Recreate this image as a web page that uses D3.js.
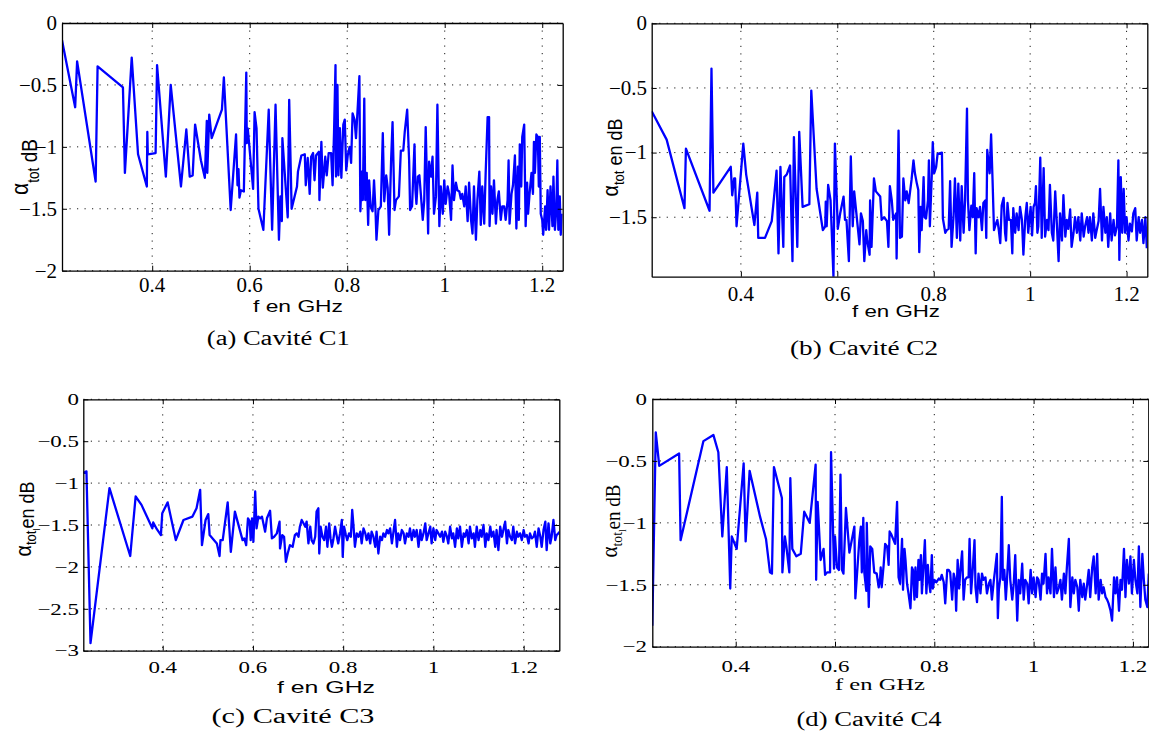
<!DOCTYPE html>
<html><head><meta charset="utf-8">
<script src="https://cdn.jsdelivr.net/npm/d3@7"></script>
<style>body{margin:0;background:#fff}svg{display:block}</style>
</head><body>
<svg id="chart" width="1149" height="733"></svg>
<script>
// ---------- data ----------
const xTicks = [0.4, 0.6, 0.8, 1, 1.2];
const yTicksA = [0, -0.5, -1, -1.5, -2];
const yTicksB = [0, -0.5, -1, -1.5];
const yTicksC = [0, -0.5, -1, -1.5, -2, -2.5, -3];
const yTicksD = [0, -0.5, -1, -1.5, -2];
const captions = ["(a) Cavité C1", "(b) Cavité C2", "(c) Cavité C3", "(d) Cavité C4"];
const xLabel = "f en GHz";

// [f (GHz), alpha_tot (dB)]
const cavC1 = [[0.215,-0.14],[0.242,-0.68],[0.246,-0.31],[0.284,-1.28],[0.288,-0.35],[0.340,-0.52],[0.344,-1.21],[0.358,-0.28],[0.371,-1.06],[0.389,-1.32],[0.390,-0.88],[0.391,-1.06],[0.407,-1.05],[0.410,-0.34],[0.428,-1.24],[0.438,-0.50],[0.459,-1.32],[0.470,-0.86],[0.477,-1.24],[0.483,-1.23],[0.488,-0.82],[0.500,-1.11],[0.508,-1.25],[0.512,-0.79],[0.513,-1.21],[0.517,-0.74],[0.522,-0.93],[0.543,-0.70],[0.547,-0.44],[0.561,-1.51],[0.572,-0.90],[0.575,-1.31],[0.577,-1.18],[0.579,-1.41],[0.582,-1.35],[0.588,-1.36],[0.590,-0.97],[0.593,-0.40],[0.594,-0.97],[0.596,-0.85],[0.607,-1.34],[0.610,-0.72],[0.614,-0.85],[0.618,-1.50],[0.628,-1.67],[0.639,-0.70],[0.646,-1.67],[0.653,-0.66],[0.660,-1.75],[0.663,-1.40],[0.666,-1.60],[0.667,-0.93],[0.678,-1.57],[0.681,-0.62],[0.686,-1.50],[0.697,-1.32],[0.699,-1.20],
[0.706,-1.07],[0.713,-1.06],[0.715,-1.31],[0.719,-1.09],[0.723,-1.38],[0.726,-1.08],[0.730,-1.05],[0.733,-1.27],[0.736,-1.07],[0.742,-1.04],[0.743,-1.43],[0.747,-0.96],[0.750,-1.33],[0.755,-1.08],[0.758,-1.23],[0.762,-1.05],[0.767,-1.05],[0.770,-1.31],[0.773,-0.88],[0.776,-0.34],[0.777,-1.24],[0.780,-0.50],[0.782,-1.23],[0.785,-0.85],[0.788,-1.25],[0.792,-0.82],[0.795,-0.78],[0.798,-1.19],[0.801,-1.07],[0.805,-1.00],[0.808,-1.13],[0.811,-0.73],[0.815,-0.78],[0.818,-0.93],[0.822,-0.65],[0.825,-0.43],[0.827,-1.52],[0.830,-1.20],[0.832,-1.43],[0.835,-0.61],[0.837,-1.43],[0.840,-1.21],[0.843,-1.63],[0.845,-1.27],[0.848,-1.48],[0.852,-1.52],[0.855,-1.27],[0.858,-1.51],[0.860,-1.75],[0.864,-1.51],[0.869,-1.48],[0.873,-0.89],[0.876,-1.44],[0.880,-1.23],[0.883,-1.33],[0.886,-1.71],[0.890,-1.11],[0.893,-0.80],[0.897,-1.51],[0.900,-1.43],[0.906,-1.40],[0.910,-1.03],[0.915,-1.03],[0.918,-0.88],[0.923,-0.70],[0.927,-1.11],[0.929,-1.51],[0.933,-1.48],[0.938,-0.98],[0.940,-1.35],[0.942,-1.46],[0.945,-1.24],[0.948,-1.23],[0.951,-1.38],[0.955,-1.59],[0.958,-1.43],[0.961,-0.84],[0.966,-1.70],[0.968,-1.12],[0.972,-1.24],[0.975,-1.08],[0.978,-1.54],[0.982,-1.40],[0.985,-0.66],[0.989,-1.64],[0.992,-1.32],[0.996,-1.54],[0.999,-1.27],[1.002,-1.46],[1.006,-1.32],[1.009,-1.38],[1.013,-1.59],[1.016,-1.15],[1.019,-1.43],[1.023,-1.29],[1.026,-1.35],[1.030,-1.36],[1.033,-1.42],[1.036,-1.38],[1.040,-1.48],[1.043,-1.32],[1.047,-1.60],[1.050,-1.29],[1.054,-1.59],[1.057,-1.70],[1.060,-1.32],[1.064,-1.75],[1.067,-1.43],[1.071,-1.20],[1.074,-1.63],[1.077,-1.32],[1.081,-1.62],[1.084,-1.21],[1.088,-0.76],[1.091,-0.76],[1.092,-1.64],[1.095,-1.32],[1.098,-1.54],[1.101,-1.27],[1.105,-1.62],[1.108,-1.43],[1.111,-1.36],[1.115,-1.59],[1.118,-1.48],[1.122,-1.48],[1.125,-1.59],[1.129,-1.43],[1.131,-1.11],[1.133,-1.62],[1.137,-1.38],[1.140,-1.31],[1.144,-1.07],[1.147,-1.66],[1.150,-1.16],[1.152,-1.59],[1.154,-0.98],[1.157,-1.32],[1.159,-0.92],[1.163,-0.82],[1.166,-1.64],[1.169,-1.29],[1.171,-1.54],[1.174,-1.38],[1.178,-1.21],[1.181,-1.38],[1.183,-0.96],[1.185,-1.21],[1.188,-0.90],[1.191,-0.92],[1.193,-1.32],[1.195,-0.92],[1.197,-1.54],[1.200,-1.59],[1.202,-1.71],[1.206,-1.48],[1.208,-1.67],[1.211,-1.35],[1.214,-1.67],[1.217,-1.32],[1.221,-1.64],[1.223,-1.24],[1.226,-1.67],[1.229,-1.50],[1.231,-1.11],[1.233,-1.67],[1.236,-1.40],[1.238,-1.71],[1.240,-1.54]];

const cavC2 = [[0.215,-0.68],[0.246,-0.90],[0.283,-1.43],[0.286,-0.97],[0.335,-1.45],[0.339,-0.35],[0.343,-1.31],[0.379,-1.11],[0.382,-1.33],[0.386,-1.20],[0.388,-1.20],[0.391,-1.57],[0.405,-0.93],[0.411,-1.17],[0.428,-1.56],[0.434,-1.31],[0.436,-1.66],[0.450,-1.66],[0.464,-1.53],[0.474,-1.14],[0.478,-1.78],[0.482,-1.11],[0.488,-1.73],[0.490,-1.19],[0.495,-1.17],[0.502,-1.10],[0.507,-1.84],[0.510,-0.88],[0.517,-1.73],[0.521,-0.84],[0.528,-1.42],[0.542,-1.40],[0.546,-0.52],[0.557,-1.28],[0.570,-1.60],[0.575,-1.57],[0.576,-1.38],[0.578,-1.57],[0.581,-1.25],[0.586,-1.37],[0.592,-1.96],[0.595,-0.93],[0.601,-1.59],[0.606,-1.47],[0.613,-1.34],[0.616,-1.52],[0.619,-1.52],[0.624,-1.84],[0.628,-1.03],[0.632,-1.57],[0.635,-1.30],[0.646,-1.71],[0.649,-1.47],[0.653,-1.53],[0.656,-1.84],[0.660,-1.60],[0.662,-1.68],[0.667,-1.79],[0.668,-1.37],[0.671,-1.73],[0.676,-1.20],[0.680,-1.30],[0.689,-1.34],
[0.692,-1.52],[0.697,-1.50],[0.703,-1.53],[0.706,-1.73],[0.709,-1.26],[0.713,-1.37],[0.716,-1.52],[0.722,-1.47],[0.723,-1.82],[0.727,-0.83],[0.730,-1.66],[0.734,-1.65],[0.737,-1.20],[0.741,-1.37],[0.744,-1.30],[0.748,-1.39],[0.751,-1.30],[0.754,-1.21],[0.758,-1.06],[0.761,-1.16],[0.765,-1.24],[0.768,-1.29],[0.770,-1.77],[0.773,-1.42],[0.775,-1.60],[0.779,-1.19],[0.781,-1.50],[0.784,-1.51],[0.788,-1.37],[0.790,-1.06],[0.792,-1.57],[0.796,-1.17],[0.798,-0.92],[0.801,-1.16],[0.805,-1.11],[0.808,-1.01],[0.817,-1.00],[0.819,-1.51],[0.824,-1.62],[0.827,-1.60],[0.831,-1.59],[0.834,-1.22],[0.837,-1.73],[0.841,-1.50],[0.844,-1.20],[0.848,-1.66],[0.851,-1.24],[0.855,-1.68],[0.858,-1.26],[0.862,-1.62],[0.865,-1.37],[0.869,-0.66],[0.871,-1.37],[0.874,-1.60],[0.878,-1.41],[0.881,-1.50],[0.884,-1.16],[0.887,-1.78],[0.889,-1.43],[0.893,-1.50],[0.896,-1.42],[0.900,-1.60],[0.903,-1.39],[0.907,-1.37],[0.909,-1.66],[0.911,-0.98],[0.916,-1.16],[0.919,-0.86],[0.922,-1.21],[0.925,-1.60],[0.929,-1.55],[0.932,-1.52],[0.935,-1.60],[0.938,-1.70],[0.941,-1.41],[0.945,-1.35],[0.948,-1.62],[0.950,-1.68],[0.953,-1.39],[0.956,-1.52],[0.960,-1.52],[0.963,-1.78],[0.965,-1.43],[0.969,-1.62],[0.972,-1.47],[0.976,-1.60],[0.979,-1.42],[0.983,-1.52],[0.986,-1.79],[0.990,-1.50],[0.993,-1.39],[0.996,-1.62],[0.999,-1.50],[1.001,-1.42],[1.004,-1.64],[1.007,-1.42],[1.010,-1.39],[1.012,-1.26],[1.015,-1.62],[1.017,-1.57],[1.021,-1.04],[1.024,-1.66],[1.028,-1.12],[1.031,-1.65],[1.035,-1.52],[1.038,-1.60],[1.041,-1.25],[1.045,-1.62],[1.048,-1.68],[1.052,-1.30],[1.055,-1.52],[1.059,-1.84],[1.062,-1.47],[1.066,-1.68],[1.069,-1.33],[1.073,-1.65],[1.076,-1.52],[1.079,-1.59],[1.083,-1.44],[1.086,-1.73],[1.090,-1.62],[1.093,-1.50],[1.097,-1.62],[1.100,-1.50],[1.104,-1.68],[1.107,-1.47],[1.111,-1.65],[1.114,-1.57],[1.118,-1.50],[1.121,-1.62],[1.124,-1.50],[1.128,-1.68],[1.131,-1.47],[1.135,-1.66],[1.138,-1.60],[1.142,-1.53],[1.145,-1.28],[1.149,-1.68],[1.152,-1.42],[1.156,-1.62],[1.159,-1.50],[1.162,-1.73],[1.166,-1.47],[1.169,-1.68],[1.173,-1.52],[1.176,-1.64],[1.180,-1.57],[1.183,-1.06],[1.185,-1.83],[1.188,-1.19],[1.191,-1.62],[1.194,-1.28],[1.197,-1.62],[1.200,-1.50],[1.204,-1.68],[1.207,-1.55],[1.211,-1.61],[1.214,-1.47],[1.218,-1.43],[1.221,-1.68],[1.225,-1.50],[1.228,-1.62],[1.232,-1.52],[1.235,-1.70],[1.239,-1.50],[1.242,-1.74]];

const cavC3 = [[0.224,-0.88],[0.231,-0.86],[0.240,-2.91],[0.282,-1.06],[0.328,-1.87],[0.340,-1.16],[0.353,-1.26],[0.377,-1.54],[0.379,-1.47],[0.387,-1.55],[0.396,-1.62],[0.399,-1.36],[0.411,-1.23],[0.429,-1.68],[0.446,-1.44],[0.466,-1.40],[0.475,-1.30],[0.483,-1.08],[0.487,-1.74],[0.495,-1.44],[0.501,-1.37],[0.504,-1.62],[0.520,-1.72],[0.526,-1.87],[0.528,-1.68],[0.533,-1.68],[0.544,-1.23],[0.551,-1.82],[0.560,-1.34],[0.577,-1.68],[0.581,-1.66],[0.585,-1.74],[0.589,-1.42],[0.593,-1.46],[0.595,-1.68],[0.598,-1.42],[0.601,-1.70],[0.605,-1.10],[0.608,-1.54],[0.612,-1.40],[0.616,-1.42],[0.620,-1.40],[0.627,-1.58],[0.631,-1.42],[0.638,-1.33],[0.642,-1.66],[0.647,-1.64],[0.653,-1.60],[0.659,-1.46],[0.660,-1.78],[0.665,-1.62],[0.669,-1.64],[0.673,-1.94],[0.677,-1.84],[0.682,-1.74],[0.688,-1.76],[0.693,-1.62],
[0.697,-1.60],[0.701,-1.64],[0.704,-1.52],[0.708,-1.44],[0.712,-1.48],[0.716,-1.52],[0.719,-1.46],[0.723,-1.72],[0.727,-1.52],[0.730,-1.68],[0.734,-1.72],[0.738,-1.64],[0.741,-1.34],[0.745,-1.30],[0.747,-1.84],[0.750,-1.52],[0.754,-1.64],[0.758,-1.68],[0.762,-1.52],[0.765,-1.76],[0.769,-1.48],[0.772,-1.66],[0.775,-1.76],[0.778,-1.68],[0.782,-1.52],[0.786,-1.64],[0.789,-1.72],[0.793,-1.60],[0.797,-1.44],[0.799,-1.88],[0.802,-1.52],[0.806,-1.62],[0.809,-1.68],[0.813,-1.60],[0.817,-1.64],[0.820,-1.32],[0.823,-1.52],[0.826,-1.76],[0.830,-1.60],[0.834,-1.64],[0.838,-1.58],[0.841,-1.72],[0.845,-1.54],[0.849,-1.60],[0.852,-1.68],[0.856,-1.60],[0.860,-1.72],[0.863,-1.58],[0.867,-1.64],[0.871,-1.76],[0.874,-1.58],[0.878,-1.84],[0.882,-1.64],[0.886,-1.68],[0.889,-1.60],[0.893,-1.64],[0.897,-1.56],[0.900,-1.60],[0.904,-1.54],[0.908,-1.72],[0.911,-1.60],[0.915,-1.44],[0.919,-1.76],[0.922,-1.60],[0.926,-1.68],[0.930,-1.56],[0.934,-1.60],[0.937,-1.72],[0.941,-1.60],[0.945,-1.64],[0.948,-1.54],[0.952,-1.68],[0.956,-1.56],[0.959,-1.64],[0.963,-1.56],[0.967,-1.76],[0.971,-1.56],[0.974,-1.68],[0.978,-1.60],[0.982,-1.48],[0.985,-1.68],[0.989,-1.60],[0.993,-1.52],[0.996,-1.72],[1.000,-1.54],[1.004,-1.68],[1.007,-1.56],[1.011,-1.60],[1.015,-1.64],[1.019,-1.58],[1.022,-1.70],[1.026,-1.58],[1.030,-1.64],[1.033,-1.72],[1.037,-1.52],[1.041,-1.66],[1.044,-1.60],[1.048,-1.76],[1.052,-1.54],[1.055,-1.66],[1.059,-1.52],[1.063,-1.76],[1.067,-1.60],[1.070,-1.64],[1.074,-1.56],[1.078,-1.72],[1.081,-1.52],[1.085,-1.66],[1.089,-1.60],[1.092,-1.76],[1.096,-1.52],[1.100,-1.68],[1.104,-1.56],[1.107,-1.64],[1.111,-1.50],[1.115,-1.76],[1.118,-1.60],[1.122,-1.68],[1.126,-1.52],[1.129,-1.64],[1.133,-1.58],[1.137,-1.76],[1.140,-1.56],[1.144,-1.80],[1.148,-1.52],[1.152,-1.64],[1.155,-1.56],[1.159,-1.46],[1.163,-1.72],[1.166,-1.56],[1.170,-1.64],[1.174,-1.68],[1.177,-1.52],[1.181,-1.72],[1.185,-1.58],[1.188,-1.64],[1.192,-1.60],[1.196,-1.68],[1.200,-1.56],[1.203,-1.64],[1.207,-1.62],[1.211,-1.72],[1.214,-1.60],[1.218,-1.66],[1.222,-1.64],[1.225,-1.58],[1.229,-1.76],[1.233,-1.54],[1.237,-1.64],[1.240,-1.76],[1.244,-1.56],[1.248,-1.46],[1.251,-1.80],[1.255,-1.48],[1.259,-1.72],[1.262,-1.64],[1.266,-1.44],[1.270,-1.68],[1.273,-1.62],[1.277,-1.60],[1.279,-1.58]];

const cavC4 = [[0.232,-1.83],[0.239,-0.27],[0.246,-0.54],[0.286,-0.44],[0.289,-1.14],[0.335,-0.34],[0.355,-0.29],[0.365,-0.43],[0.373,-1.11],[0.382,-0.55],[0.389,-1.53],[0.392,-1.11],[0.402,-1.21],[0.416,-0.52],[0.420,-1.15],[0.428,-0.58],[0.449,-0.95],[0.461,-1.13],[0.469,-1.40],[0.473,-1.41],[0.477,-0.55],[0.488,-0.72],[0.493,-0.80],[0.494,-1.40],[0.499,-1.11],[0.502,-1.19],[0.508,-1.40],[0.510,-0.64],[0.514,-1.21],[0.522,-1.27],[0.531,-1.25],[0.538,-0.91],[0.549,-1.00],[0.561,-0.53],[0.562,-1.46],[0.565,-0.83],[0.571,-1.30],[0.577,-1.21],[0.580,-1.42],[0.584,-1.40],[0.590,-1.40],[0.592,-0.43],[0.598,-1.37],[0.600,-1.11],[0.604,-1.36],[0.608,-1.38],[0.611,-0.61],[0.614,-1.38],[0.617,-1.41],[0.622,-0.88],[0.629,-1.24],[0.639,-1.03],[0.641,-1.61],[0.649,-1.14],[0.652,-1.03],[0.654,-1.40],[0.657,-0.96],[0.659,-1.40],[0.663,-1.55],[0.664,-1.00],[0.668,-1.68],[0.671,-1.19],[0.675,-1.21],[0.679,-1.40],[0.684,-1.41],[0.688,-1.52],[0.691,-1.44],
[0.692,-1.36],[0.694,-1.52],[0.698,-1.34],[0.701,-1.17],[0.705,-1.19],[0.708,-1.34],[0.710,-1.07],[0.713,-1.09],[0.718,-1.14],[0.721,-1.17],[0.725,-0.83],[0.728,-1.44],[0.731,-1.49],[0.735,-1.13],[0.737,-1.54],[0.740,-1.21],[0.742,-1.30],[0.745,-1.49],[0.748,-1.57],[0.752,-1.69],[0.755,-1.36],[0.757,-1.38],[0.760,-1.62],[0.762,-1.36],[0.765,-1.60],[0.768,-1.30],[0.770,-1.46],[0.773,-1.26],[0.775,-1.57],[0.778,-1.36],[0.781,-1.14],[0.784,-1.57],[0.787,-1.34],[0.789,-1.46],[0.792,-1.56],[0.795,-1.26],[0.797,-1.53],[0.800,-1.46],[0.804,-1.48],[0.809,-1.45],[0.812,-1.46],[0.815,-1.42],[0.819,-1.48],[0.822,-1.65],[0.826,-1.38],[0.829,-1.38],[0.832,-1.40],[0.836,-1.62],[0.839,-1.41],[0.842,-1.46],[0.844,-1.71],[0.847,-1.30],[0.850,-1.53],[0.852,-1.41],[0.856,-1.23],[0.859,-1.62],[0.862,-1.46],[0.866,-1.44],[0.869,-1.44],[0.871,-1.13],[0.874,-1.57],[0.877,-1.40],[0.881,-1.14],[0.883,-1.52],[0.886,-1.64],[0.889,-1.41],[0.893,-1.57],[0.896,-1.41],[0.899,-1.46],[0.903,-1.44],[0.906,-1.57],[0.910,-1.49],[0.913,-1.46],[0.916,-1.62],[0.920,-1.46],[0.923,-1.36],[0.926,-1.25],[0.928,-1.77],[0.930,-1.54],[0.933,-1.44],[0.936,-0.79],[0.938,-1.46],[0.941,-1.38],[0.944,-1.62],[0.946,-1.49],[0.950,-1.18],[0.953,-1.46],[0.957,-1.62],[0.960,-1.49],[0.963,-1.26],[0.967,-1.79],[0.970,-1.46],[0.973,-1.57],[0.977,-1.33],[0.980,-1.62],[0.983,-1.46],[0.987,-1.49],[0.990,-1.65],[0.994,-1.38],[0.997,-1.57],[1.000,-1.44],[1.004,-1.60],[1.007,-1.44],[1.010,-1.46],[1.014,-1.62],[1.017,-1.41],[1.020,-1.49],[1.024,-1.25],[1.027,-1.57],[1.030,-1.44],[1.034,-1.57],[1.037,-1.21],[1.041,-1.60],[1.044,-1.36],[1.047,-1.57],[1.051,-1.52],[1.054,-1.46],[1.057,-1.62],[1.061,-1.41],[1.064,-1.57],[1.067,-1.36],[1.071,-1.13],[1.074,-1.68],[1.078,-1.44],[1.081,-1.57],[1.084,-1.46],[1.088,-1.52],[1.091,-1.71],[1.094,-1.46],[1.098,-1.60],[1.101,-1.49],[1.104,-1.62],[1.108,-1.49],[1.111,-1.38],[1.114,-1.60],[1.118,-1.36],[1.121,-1.27],[1.125,-1.57],[1.128,-1.25],[1.131,-1.62],[1.135,-1.46],[1.138,-1.57],[1.141,-1.52],[1.145,-1.60],[1.148,-1.62],[1.151,-1.65],[1.155,-1.71],[1.158,-1.79],[1.162,-1.44],[1.165,-1.57],[1.168,-1.44],[1.172,-1.71],[1.175,-1.46],[1.178,-1.54],[1.182,-1.21],[1.185,-1.60],[1.188,-1.30],[1.192,-1.49],[1.195,-1.27],[1.198,-1.57],[1.202,-1.30],[1.205,-1.46],[1.209,-1.57],[1.212,-1.19],[1.215,-1.68],[1.219,-1.25],[1.222,-1.46],[1.225,-1.62],[1.229,-1.68],[1.232,-1.41]];

// ---------- layout ----------
const SANS = "'Liberation Sans', Arial, sans-serif";
const SERIF = "'Liberation Serif', 'Times New Roman', serif";
const panels = [
  {data: cavC1, yTicks: yTicksA, xDom: [0.215, 1.242], yDom: [-2, 0], box: [62, 23, 562.7, 270.7],
   tickFs: 20, tickSx: 1.05, xtBase: 292, ytRight: 57,
   xl: {x: 298, y: 311.7, w: 90, fs: 16, fam: SANS},
   cap: {x: 278.3, y: 345, w: 143, fs: 20},
   yl: {x: 36.5, y: 167, fs: 19, sx: 1.15, fam: SANS, raise: 7, sub2: false, rest: " dB"}},
  {data: cavC2, yTicks: yTicksB, xDom: [0.215, 1.243], yDom: [-1.96, 0], box: [651.7, 23.3, 1147.3, 276.7],
   tickFs: 20, tickSx: 1.05, xtBase: 300.5, ytRight: 647,
   xl: {x: 896, y: 316.7, w: 88, fs: 16, fam: SANS},
   cap: {x: 864, y: 355, w: 148, fs: 20},
   yl: {x: 622, y: 157.5, fs: 18, sx: 1.1, fam: SANS, raise: 4, sub2: false, rest: " en dB"}},
  {data: cavC3, yTicks: yTicksC, xDom: [0.224, 1.279], yDom: [-3, 0], box: [83.3, 399.3, 559.3, 650.7],
   tickFs: 17, tickSx: 1.35, xtBase: 673, ytRight: 79,
   xl: {x: 326, y: 692.5, w: 98, fs: 16, fam: SANS},
   cap: {x: 293, y: 723, w: 163, fs: 20},
   yl: {x: 34, y: 519, fs: 18, sx: 1.1, fam: SANS, raise: 3, sub2: true, rest: "en dB"}},
  {data: cavC4, yTicks: yTicksD, xDom: [0.232, 1.231], yDom: [-2, 0], box: [652.3, 399, 1148.3, 646.7],
   tickFs: 17, tickSx: 1.35, xtBase: 671.5, ytRight: 647,
   xl: {x: 880, y: 690, w: 90, fs: 17, fam: SERIF},
   cap: {x: 869, y: 726, w: 145, fs: 20},
   yl: {x: 620, y: 521, fs: 19, sx: 1.1, fam: SERIF, raise: 3, sub2: true, rest: "en dB"}}
];

const svg = d3.select("#chart");
const fmt = d3.format("");

panels.forEach((p, i) => {
  const [L, T, R, B] = p.box;
  const x = d3.scaleLinear().domain(p.xDom).range([L, R]);
  const y = d3.scaleLinear().domain(p.yDom).range([B, T]);
  const g = svg.append("g");

  // grid
  const grid = g.append("g").attr("stroke", "#000").attr("stroke-width", 0.9).attr("stroke-dasharray", "1.2,6.3");
  grid.selectAll(".gx").data(xTicks).join("line")
    .attr("x1", d => x(d)).attr("x2", d => x(d)).attr("y1", T).attr("y2", B);
  grid.selectAll(".gy").data(p.yTicks).join("line")
    .attr("y1", d => y(d)).attr("y2", d => y(d)).attr("x1", L).attr("x2", R);

  // data line
  const cid = "clip" + i;
  g.append("clipPath").attr("id", cid).append("rect")
    .attr("x", L).attr("y", T).attr("width", R - L).attr("height", B - T);
  g.append("path").datum(p.data)
    .attr("clip-path", `url(#${cid})`)
    .attr("fill", "none").attr("stroke", "#0000ff").attr("stroke-width", 2.3)
    .attr("stroke-linejoin", "round")
    .attr("d", d3.line().x(d => x(d[0])).y(d => y(d[1])));

  // box + inward ticks on all sides
  const axStyle = sel => {
    sel.selectAll("path.domain").attr("stroke", "#000").attr("stroke-width", 1.3);
    sel.selectAll(".tick line").attr("stroke", "#000").attr("stroke-width", 1);
    sel.selectAll(".tick text").remove();
  };
  g.append("g").attr("transform", `translate(0,${B})`)
    .call(d3.axisBottom(x).tickValues(xTicks).tickSizeInner(-5).tickSizeOuter(0)).call(axStyle);
  g.append("g").attr("transform", `translate(0,${T})`)
    .call(d3.axisTop(x).tickValues(xTicks).tickSizeInner(-5).tickSizeOuter(0)).call(axStyle);
  g.append("g").attr("transform", `translate(${L},0)`)
    .call(d3.axisLeft(y).tickValues(p.yTicks).tickSizeInner(-5).tickSizeOuter(0)).call(axStyle);
  g.append("g").attr("transform", `translate(${R},0)`)
    .call(d3.axisRight(y).tickValues(p.yTicks).tickSizeInner(-5).tickSizeOuter(0)).call(axStyle);

  // tick labels
  g.selectAll(".xt").data(xTicks).join("text")
    .attr("transform", d => `translate(${x(d)},${p.xtBase}) scale(${p.tickSx},1)`)
    .attr("text-anchor", "middle").attr("font-family", SERIF).attr("font-size", p.tickFs)
    .attr("fill", "#000").text(d => fmt(d));
  g.selectAll(".yt").data(p.yTicks).join("text")
    .attr("transform", d => `translate(${p.ytRight},${y(d)}) scale(${p.tickSx},1)`)
    .attr("dy", "0.34em")
    .attr("text-anchor", "end").attr("font-family", SERIF).attr("font-size", p.tickFs)
    .attr("fill", "#000").text(d => fmt(d));

  // x label
  g.append("text").attr("x", p.xl.x).attr("y", p.xl.y)
    .attr("text-anchor", "middle").attr("font-family", p.xl.fam).attr("font-size", p.xl.fs)
    .attr("textLength", p.xl.w).attr("lengthAdjust", "spacingAndGlyphs")
    .text(xLabel);

  // caption
  g.append("text").attr("x", p.cap.x).attr("y", p.cap.y)
    .attr("text-anchor", "middle").attr("font-family", SERIF).attr("font-size", p.cap.fs)
    .attr("textLength", p.cap.w).attr("lengthAdjust", "spacingAndGlyphs")
    .text(captions[i]);

  // y label
  const yl = p.yl;
  const t = g.append("text")
    .attr("transform", `translate(${yl.x},${yl.y}) scale(${yl.sx},1) rotate(-90)`)
    .attr("text-anchor", "middle").attr("font-family", yl.fam).attr("font-size", yl.fs);
  t.append("tspan").attr("dy", -yl.raise).attr("font-size", yl.fs * 1.1).text("α");
  t.append("tspan").attr("dy", yl.raise + 2).attr("font-size", yl.fs * 0.72).text("tot");
  let back = 2;
  if (yl.sub2) { t.append("tspan").attr("dy", 3).attr("font-size", yl.fs * 0.5).text("l"); back += 3; }
  t.append("tspan").attr("dy", -back).text(yl.rest);
});
</script>
</body></html>
